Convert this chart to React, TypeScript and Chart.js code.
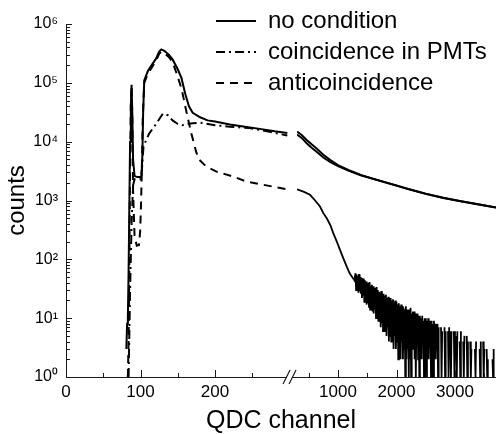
import React, { useEffect, useRef } from 'react';
import { Chart, registerables } from 'chart.js';

Chart.register(...registerables);

// ---------- text ----------
const SERIES_LABELS = ['no condition', 'coincidence in PMTs', 'anticoincidence'];
const X_TITLE = 'QDC channel';
const Y_TITLE = 'counts';

// ---------- ticks ----------
const LEFT_TICKS = [0, 50, 100, 150, 200, 250];
const LEFT_LABELED = [0, 100, 200];
const RIGHT_TICKS = [500, 1000, 1500, 2000, 2500, 3000, 3500];
const RIGHT_LABELED = [1000, 2000, 3000];
const Y_DECADES = [1, 10, 100, 1000, 10000, 100000, 1000000];
const Y_LABELS = ['10\u2070', '10\u00B9', '10\u00B2', '10\u00B3', '10\u2074', '10\u2075', '10\u2076'];
const BREAK_AT = 300;

// ---------- left segment (channels 0-300) ----------
const noCondLeftCh = [81, 82, 83, 84, 85, 86, 87, 88, 89, 90, 92, 96, 100, 101.5, 102.5, 103.5, 105, 110, 115, 121, 125, 128, 132, 138, 143, 150, 155, 160, 165, 170, 180, 190, 200, 220, 240, 260, 280, 297];
const noCondLeft = [3, 8, 10, 60, 800, 10000, 40000, 93000, 30000, 5000, 2600, 2500, 2500, 2700, 6000, 30000, 110000, 160000, 200000, 260000, 340000, 370000, 350000, 300000, 250000, 170000, 120000, 65000, 40000, 31000, 26000, 23000, 22000, 19500, 18000, 16500, 15000, 14000];

const coincLeftCh = [84, 86, 88, 90, 92, 96, 100, 102, 104, 108, 112, 121, 130, 137, 143, 150, 156, 163, 170, 180, 200, 220, 246, 270, 297];
const coincLeft = [1, 30, 400, 1800, 2300, 2300, 2300, 3500, 8300, 11000, 14000, 20000, 30000, 28000, 23000, 20000, 19000, 20000, 20500, 21000, 19000, 18000, 17000, 15000, 12700];

const antiLeftCh = [83, 84, 85, 86, 87, 88, 89, 90, 92, 95, 98, 99.5, 100.5, 101.5, 103, 105, 110, 115, 121, 125, 128, 132, 138, 143, 148, 155, 161, 168, 175, 179, 188, 202, 224, 242, 260, 280, 297];
const antiLeft = [1, 4, 80, 4000, 40000, 90000, 25000, 1500, 250, 170, 175, 300, 700, 2300, 25000, 100000, 145000, 180000, 240000, 310000, 340000, 320000, 275000, 225000, 150000, 80000, 35000, 14000, 6500, 4900, 3800, 3100, 2560, 2100, 1900, 1700, 1550];

// ---------- right segment (channels 300-3700) ----------
const noCondRightCh = [300, 380, 465, 550, 640, 750, 864, 1000, 1177, 1400, 1600, 1800, 2000, 2200, 2500, 2800, 3100, 3400, 3700];
const noCondRight = [14800, 13000, 10700, 9000, 7600, 6000, 4900, 4000, 3300, 2700, 2350, 2050, 1800, 1570, 1300, 1110, 970, 860, 760];

const coincRightCh = [300, 380, 465, 550, 640, 750, 864, 1000, 1177, 1400, 1600, 1800, 2000, 2200, 2500, 2800, 3100, 3400, 3700];
const coincRight = [13250, 11580, 9400, 7850, 6680, 5390, 4510, 3830, 3215, 2667, 2330, 2036, 1791, 1563, 1296, 1107, 968, 858, 759];

const antiRightCh = [300, 420, 522, 610, 693, 750, 808, 870, 921, 980, 1035, 1090, 1150, 1200, 1262, 1280];
const antiRight = [1550, 1400, 1250, 1000, 790, 610, 500, 380, 277, 200, 145, 105, 75, 58, 47, 44];

// noisy tail of the anticoincidence spectrum, one reading every 10 channels from 1300
const NOISE_START = 1300;
const NOISE_STEP = 10;
const antiNoise = [
  58, 30, 55, 34, 52, 27, 56, 29, 50, 26,
  48, 22, 45, 25, 47, 19, 44, 21, 42, 17,
  40, 18, 38, 15, 41, 14, 36, 16, 37, 13,
  35, 12, 33, 14, 31, 10, 34, 11, 30, 9,
  28, 10, 27, 7, 29, 8, 25, 6, 26, 7,
  24, 6, 25, 5, 22, 7, 23, 4, 21, 5,
  22, 4, 20, 6, 21, 3, 19, 5, 20, 3,
  19, 4, 17, 2, 18, 3, 16, 2, 17, 4,
  16, 2, 15, 3, 14, 1, 16, 2, 14, 3,
  14, 1, 13, 2, 15, 1, 12, 3, 13, 0,
  13, 2, 12, 1, 11, 0, 12, 2, 11, 1,
  11, 0, 10, 2, 11, 0, 9, 1, 10, 0,
  10, 1, 9, 0, 10, 2, 8, 0, 9, 1,
  9, 0, 8, 1, 9, 0, 8, 2, 7, 0,
  8, 1, 7, 0, 8, 0, 7, 1, 6, 0,
  8, 0, 7, 1, 6, 0, 7, 0, 6, 1,
  7, 0, 6, 1, 6, 0, 5, 0, 6, 1,
  6, 0, 5, 1, 6, 0, 5, 0, 4, 1,
  6, 0, 5, 0, 4, 1, 5, 0, 4, 0,
  5, 1, 4, 0, 5, 0, 4, 1, 3, 0,
  5, 0, 4, 0, 3, 1, 4, 0, 3, 0,
  4, 0, 3, 1, 4, 0, 3, 0, 4, 1,
  3, 0, 4, 0, 3, 1, 2, 0, 3, 0,
  4, 0, 3, 0, 2, 1, 3, 0, 3, 0,
  2,
];

// ---------- styles ----------
const FONT = 'Liberation Sans, Arial, Helvetica, sans-serif';
const INK = '#000000';
const AXIS = '#1a1a1a';
const DASH_SOLID: number[] = [];
const DASH_DOTDASH = [9, 4, 2, 4];
const DASH_DASHED = [8, 6];

const pts = (xs: number[], ys: number[]) => xs.map((x, i) => ({ x, y: ys[i] }));

const yTickValues: number[] = [];
for (let k = 0; k < 6; k++) {
  for (let m = 1; m < 10; m++) yTickValues.push(m * Math.pow(10, k));
}
yTickValues.push(1000000);

const decorPlugin = {
  id: 'decor',
  beforeDraw(chart: any) {
    const lg = chart.legend;
    if (lg) {
      const w = lg.width;
      const h = lg.height;
      lg.left = 209;
      lg.top = 2;
      lg.right = 209 + w;
      lg.bottom = 2 + h;
    }
  },
  afterDraw(chart: any) {
    const ctx = chart.ctx as CanvasRenderingContext2D;
    const { xl, xr, y } = chart.scales;
    const area = chart.chartArea;
    const b = area.bottom;
    ctx.save();
    ctx.strokeStyle = AXIS;
    ctx.lineWidth = 1;
    const xTicks = (s: any, labeled: number[]) => {
      s.ticks.forEach((t: any) => {
        const px = Math.round(s.getPixelForValue(t.value)) + 0.5;
        const len = labeled.includes(t.value) ? 7 : 4;
        ctx.beginPath();
        ctx.moveTo(px, b);
        ctx.lineTo(px, b - len);
        ctx.stroke();
      });
    };
    xTicks(xl, LEFT_LABELED);
    xTicks(xr, RIGHT_LABELED);
    y.ticks.forEach((t: any) => {
      const py = Math.round(y.getPixelForValue(t.value)) + 0.5;
      const len = Y_DECADES.includes(t.value) ? 6 : 4;
      ctx.beginPath();
      ctx.moveTo(area.left, py);
      ctx.lineTo(area.left + len, py);
      ctx.stroke();
    });
    // axis break mark
    const cx = xl.getPixelForValue(BREAK_AT);
    ctx.fillStyle = '#ffffff';
    ctx.fillRect(cx - 3, b - 2, 6, 4);
    ctx.lineWidth = 1.2;
    ctx.beginPath();
    ctx.moveTo(cx - 6.5, b + 7);
    ctx.lineTo(cx + 0.5, b - 7);
    ctx.moveTo(cx - 0.5, b + 7);
    ctx.lineTo(cx + 6.5, b - 7);
    ctx.stroke();
    ctx.restore();
  },
};

export default function App() {
  const ref = useRef<HTMLCanvasElement>(null);

  useEffect(() => {
    const canvas = ref.current;
    if (!canvas) return;
    Chart.defaults.font.family = FONT;
    Chart.defaults.color = INK;

    const noiseCh = antiNoise.map((_, i) => NOISE_START + i * NOISE_STEP);
    const antiRightAll = pts(antiRightCh, antiRight).concat(pts(noiseCh, antiNoise));

    const common = { pointRadius: 0, borderWidth: 2, borderColor: INK, backgroundColor: INK, fill: false, tension: 0, yAxisID: 'y' };
    const defaultLabels = (Chart.defaults as any).plugins.legend.labels.generateLabels;

    const chart = new Chart(canvas, {
      type: 'line',
      data: {
        datasets: [
          { ...common, label: SERIES_LABELS[0], data: pts(noCondLeftCh, noCondLeft), xAxisID: 'xl', borderDash: DASH_SOLID },
          { ...common, label: SERIES_LABELS[1], data: pts(coincLeftCh, coincLeft), xAxisID: 'xl', borderDash: DASH_DOTDASH },
          { ...common, label: SERIES_LABELS[2], data: pts(antiLeftCh, antiLeft), xAxisID: 'xl', borderDash: DASH_DASHED },
          { ...common, label: SERIES_LABELS[0], data: pts(noCondRightCh, noCondRight), xAxisID: 'xr', borderDash: DASH_SOLID },
          { ...common, label: SERIES_LABELS[1], data: pts(coincRightCh, coincRight), xAxisID: 'xr', borderDash: DASH_SOLID },
          { ...common, label: SERIES_LABELS[2], data: antiRightAll, xAxisID: 'xr', borderDash: DASH_SOLID, borderWidth: 1.8 },
        ],
      } as any,
      options: {
        responsive: false,
        animation: false,
        events: [],
        layout: { padding: { top: 24, right: 0, bottom: 0, left: 0 } },
        plugins: {
          tooltip: { enabled: false },
          legend: {
            display: true,
            position: 'chartArea',
            align: 'start',
            labels: {
              generateLabels: (ch: any) =>
                defaultLabels(ch).map((it: any) => ({
                  ...it,
                  lineDash: ch.data.datasets[it.datasetIndex].borderDash,
                  lineWidth: 2,
                  strokeStyle: INK,
                  fillStyle: INK,
                })),
              filter: (item: any) => item.datasetIndex < 3,
              usePointStyle: true,
              pointStyle: 'line',
              pointStyleWidth: 40,
              padding: 7,
              color: INK,
              font: { size: 24, family: FONT },
            },
          } as any,
        },
        scales: {
          xl: {
            type: 'linear',
            position: 'bottom',
            stack: 'xstack',
            stackWeight: 231,
            min: 0,
            max: 310,
            grid: { display: false, drawTicks: false },
            border: { display: true, color: AXIS, width: 1 },
            afterBuildTicks: (s: any) => { s.ticks = LEFT_TICKS.map((v) => ({ value: v })); },
            afterFit: (s: any) => { s.height = 25; },
            ticks: {
              autoSkip: false,
              maxRotation: 0,
              padding: 5,
              color: INK,
              font: { size: 17 },
              callback: (v: any) => (LEFT_LABELED.includes(v) ? String(v) : ''),
            },
          },
          xr: {
            type: 'linear',
            position: 'bottom',
            stack: 'xstack',
            stackWeight: 199,
            min: 300,
            max: 3700,
            grid: { display: false, drawTicks: false },
            border: { display: true, color: AXIS, width: 1 },
            afterBuildTicks: (s: any) => { s.ticks = RIGHT_TICKS.map((v) => ({ value: v })); },
            afterFit: (s: any) => { s.height = 25; },
            ticks: {
              autoSkip: false,
              maxRotation: 0,
              padding: 5,
              color: INK,
              font: { size: 17 },
              callback: (v: any) => (RIGHT_LABELED.includes(v) ? String(v) : ''),
            },
          },
          xt: {
            type: 'linear',
            position: 'bottom',
            weight: 1,
            grid: { display: false, drawTicks: false },
            border: { display: false },
            ticks: { display: false },
            afterFit: (s: any) => { s.height = 32; },
            title: { display: true, text: X_TITLE, color: INK, font: { size: 25, lineHeight: 1 }, padding: 0 },
          },
          y: {
            type: 'logarithmic',
            position: 'left',
            min: 1,
            max: 1000000,
            grid: { display: false, drawTicks: false },
            border: { display: true, color: AXIS, width: 1 },
            afterBuildTicks: (s: any) => { s.ticks = yTickValues.map((v) => ({ value: v })); },
            afterFit: (s: any) => { s.width = 66; },
            ticks: {
              autoSkip: false,
              padding: 8,
              color: INK,
              font: { size: 16 },
              callback: (v: any) => {
                const i = Y_DECADES.indexOf(v);
                return i >= 0 ? Y_LABELS[i] : '';
              },
            },
            title: { display: true, text: Y_TITLE, color: INK, font: { size: 24, lineHeight: 1 }, padding: { top: 5, bottom: 0 } },
          },
        },
      } as any,
      plugins: [decorPlugin],
    });

    return () => chart.destroy();
  }, []);

  return (
    <div style={{ position: 'fixed', left: 0, top: 0, width: 496, height: 434, background: '#ffffff' }}>
      <canvas ref={ref} width={496} height={434} style={{ display: 'block', width: 496, height: 434 }} />
    </div>
  );
}
